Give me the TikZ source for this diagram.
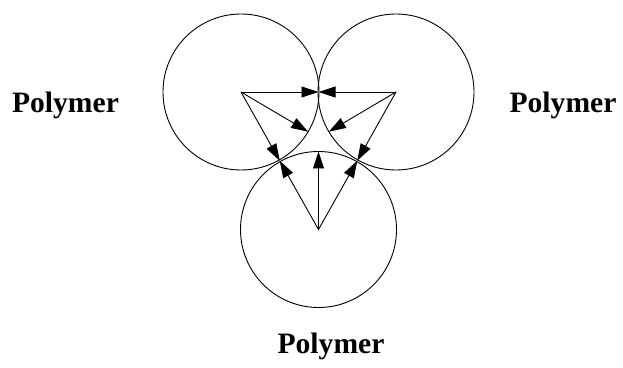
\documentclass[tikz,border=0pt]{standalone}
\usepackage{fontspec}
\setmainfont{Liberation Serif}
\usepackage{tikz}
\usetikzlibrary{calc,arrows.meta}
\tikzset{
  ball/.style={draw,circle,line width=0.9pt,minimum size=156pt,inner sep=0pt},
  ar/.style={-{Triangle[length=17pt,width=11pt]},line width=0.9pt},
  lab/.style={font=\fontsize{29.6}{34}\selectfont\bfseries,anchor=base}
}

\begin{document}
\begin{tikzpicture}[x=1pt,y=1pt]
\useasboundingbox (0,0) rectangle (623,367);
% three polymer particles
\node[ball] (pl) at (241,275) {};
\node[ball] (pr) at (396,275) {};
\node[ball] (pb) at (318.5,137.5) {};
\coordinate (g) at (318.5,229.2);
% contact points and inner points
\coordinate (clr) at ($(pl.center)!0.5!(pr.center)$);
\coordinate (clb) at ($(pl.center)!0.5!(pb.center)$);
\coordinate (crb) at ($(pr.center)!0.5!(pb.center)$);
\coordinate (gl) at ($(pl.center)!78pt!(g)$);
\coordinate (gr) at ($(pr.center)!78pt!(g)$);
\coordinate (gb) at ($(pb.center)!78pt!(g)$);
\foreach \a/\b in {pl/clr,pl/gl,pl/clb,pr/clr,pr/gr,pr/crb,pb/clb,pb/gb,pb/crb}
  \draw[ar] (\a.center) -- (\b);
\node[lab] (tl) at (65.5,254) {Polymer};
\node[lab] (tr) at (563,254) {Polymer};
\node[lab] (tb) at (331,14) {Polymer};
\end{tikzpicture}
\end{document}
